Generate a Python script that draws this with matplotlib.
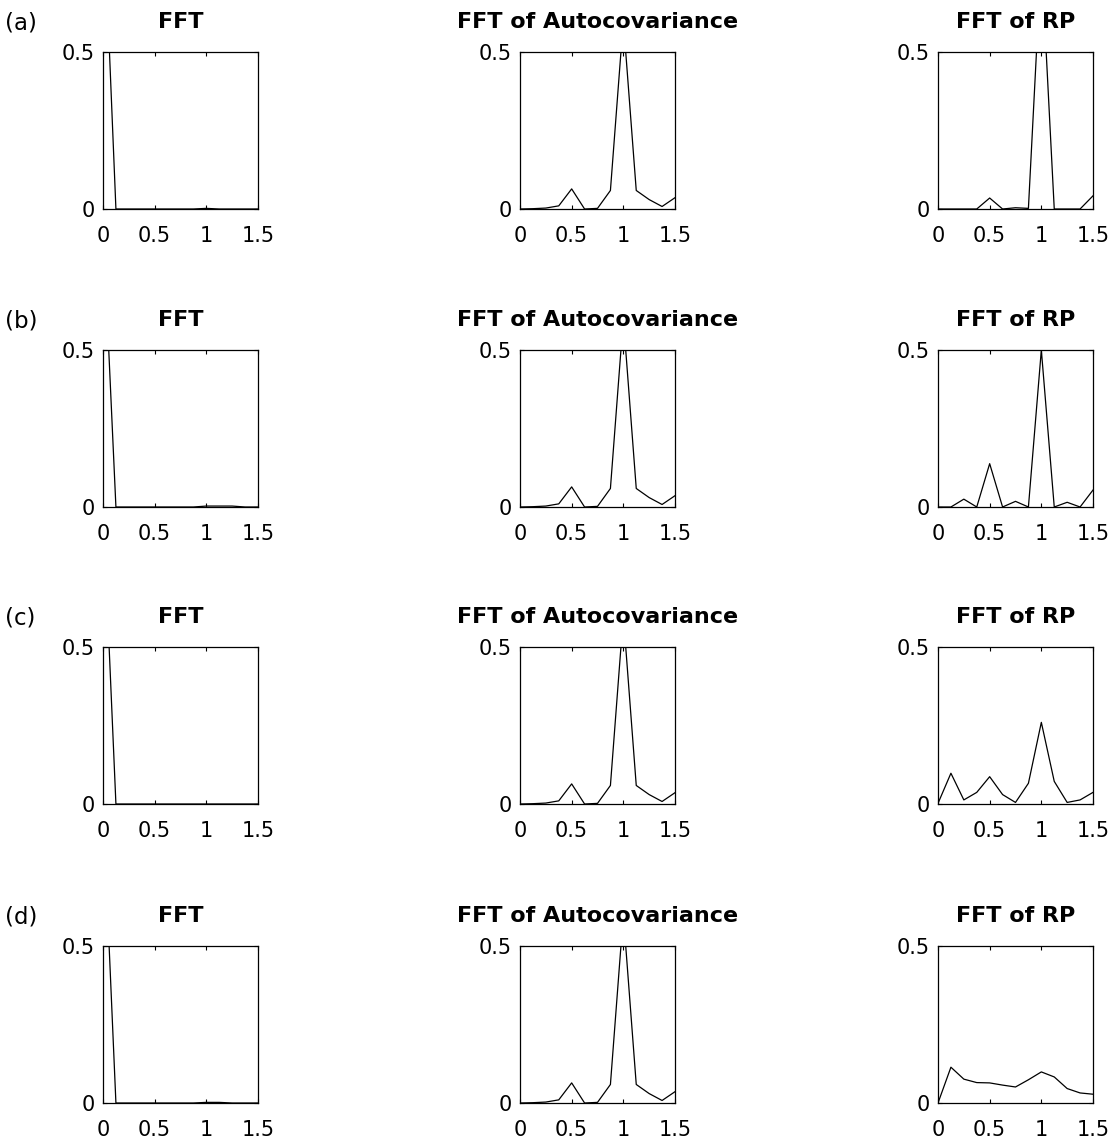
import numpy as np
import matplotlib
matplotlib.use("Agg")
import matplotlib.pyplot as plt

plt.rcParams['font.family'] = ['DejaVu Sans']

# frequency grid shared by every spectrum
freq = [0, 0.125, 0.25, 0.375, 0.5, 0.625, 0.75, 0.875, 1.0, 1.125, 1.25, 1.375, 1.5]

# plain FFT of each signal: everything sits in the first bin
fft_a = [1.0, 0, 0, 0, 0, 0, 0, 0, 0.002, 0, 0, 0, 0]
fft_b = [0.9, 0, 0, 0, 0, 0, 0, 0, 0.003, 0.003, 0.003, 0, 0]
fft_c = [0.95, 0, 0, 0, 0, 0, 0, 0, 0, 0, 0, 0, 0]
fft_d = [0.95, 0, 0, 0, 0, 0, 0, 0, 0.002, 0.002, 0, 0, 0]

# FFT of autocovariance (same for all four cases)
acov = [0, 0.001, 0.003, 0.01, 0.064, 0, 0.002, 0.059, 0.6, 0.059, 0.03, 0.008, 0.036]

# FFT of recurrence plot
rp_a = [0, 0, 0, 0, 0.035, 0, 0.004, 0.002, 0.8, 0, 0, 0, 0.042]
rp_b = [0, 0, 0.025, 0, 0.138, 0, 0.018, 0, 0.5, 0, 0.015, 0, 0.054]
rp_c = [0.002, 0.098, 0.013, 0.037, 0.087, 0.03, 0.005, 0.066, 0.26, 0.072, 0.005, 0.013, 0.037]
rp_d = [0, 0.114, 0.076, 0.065, 0.064, 0.057, 0.051, 0.074, 0.099, 0.083, 0.046, 0.032, 0.028]

row_labels = ['(a)', '(b)', '(c)', '(d)']
titles = ['FFT', 'FFT of Autocovariance', 'FFT of RP']
rows = [
    [fft_a, acov, rp_a],
    [fft_b, acov, rp_b],
    [fft_c, acov, rp_c],
    [fft_d, acov, rp_d],
]

W, H = 1118, 1141
fig = plt.figure(figsize=(W / 100, H / 100), dpi=100)

col_left = [103, 520, 938]
row_top = [52, 350, 647, 946]
ax_w, ax_h = 155, 157

for r, series in enumerate(rows):
    for c, y in enumerate(series):
        left = col_left[c] / W
        bottom = (H - row_top[r] - ax_h) / H
        ax = fig.add_axes([left, bottom, ax_w / W, ax_h / H])
        ax.plot(freq, y, color='black', lw=0.9)
        ax.set_xlim(0, 1.5)
        ax.set_ylim(0, 0.5)
        ax.set_xticks([0, 0.5, 1, 1.5])
        ax.set_xticklabels(['0', '0.5', '1', '1.5'])
        ax.set_yticks([0, 0.5])
        ax.set_yticklabels(['0', '0.5'])
        ax.tick_params(direction='in', length=3, width=0.8, labelsize=15,
                       top=True, right=True)
        ax.tick_params(axis='x', pad=12)
        ax.tick_params(axis='y', pad=6)
        for s in ax.spines.values():
            s.set_linewidth(0.9)
        ax.set_title(titles[c], fontsize=16, fontweight='bold', pad=17)
    fig.text(5 / W, 1 - (row_top[r] - 29) / H, row_labels[r], fontsize=16.5,
             ha='left', va='center')

fig.savefig('out.png', dpi=100)
